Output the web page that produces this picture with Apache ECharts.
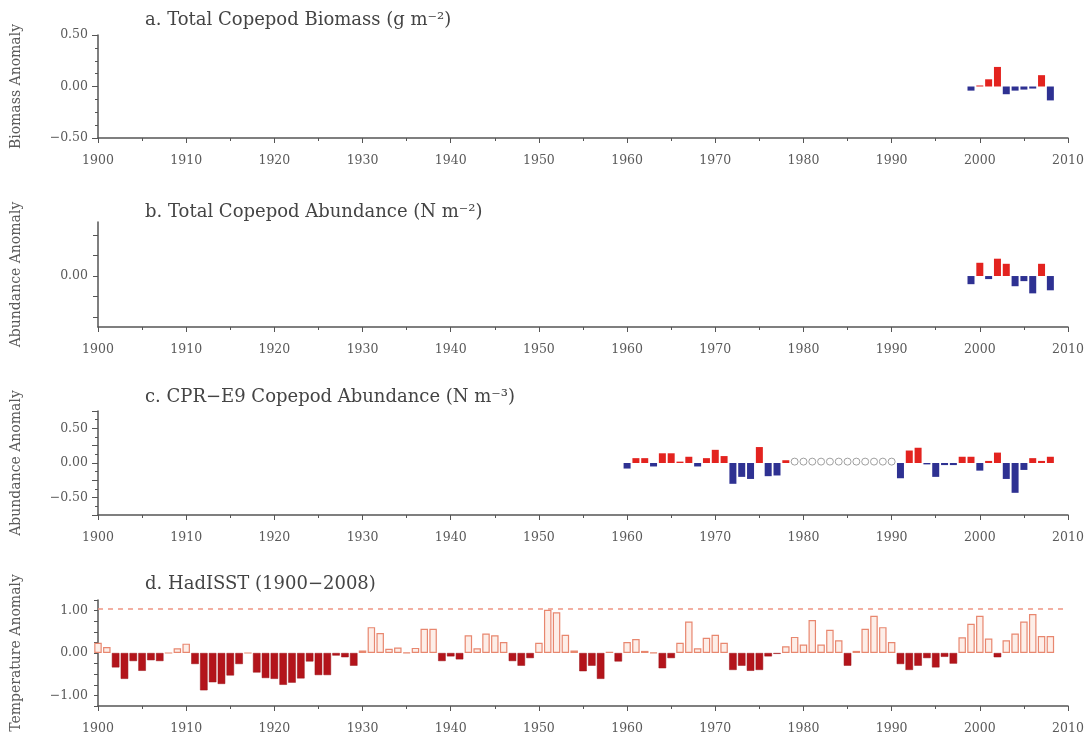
<!DOCTYPE html>
<html><head><meta charset="utf-8">
<script src="https://cdn.jsdelivr.net/npm/echarts@6/dist/echarts.min.js"></script>
<style>html,body{margin:0;padding:0;background:#fff}#c{width:1088px;height:742px}</style>
</head><body><div id="c"></div>
<script>
// ---- data ----
const biomassYears = [1999,2000,2001,2002,2003,2004,2005,2006,2007,2008];
const biomassValues = [-0.04,0.01,0.07,0.19,-0.075,-0.04,-0.03,-0.02,0.11,-0.135];
const abundanceYears = [1999,2000,2001,2002,2003,2004,2005,2006,2007,2008];
const abundanceValues = [-0.08,0.13,-0.03,0.17,0.12,-0.10,-0.05,-0.17,0.12,-0.14];
const cprYears = [1960,1961,1962,1963,1964,1965,1966,1967,1968,1969,1970,1971,1972,1973,1974,1975,1976,1977,1978,
  1991,1992,1993,1994,1995,1996,1997,1998,1999,2000,2001,2002,2003,2004,2005,2006,2007,2008];
const cprValues = [-0.08,0.07,0.07,-0.05,0.14,0.14,0.02,0.09,-0.05,0.07,0.19,0.10,-0.30,-0.20,-0.23,0.23,-0.19,-0.18,0.04,
  -0.22,0.18,0.22,-0.02,-0.20,-0.03,-0.03,0.09,0.09,-0.11,0.03,0.15,-0.23,-0.43,-0.10,0.07,0.03,0.09];
const cprMissingYears = [1979,1980,1981,1982,1983,1984,1985,1986,1987,1988,1989,1990];
const sstYears = [1900,1901,1902,1903,1904,1905,1906,1907,1908,1909,1910,1911,1912,1913,1914,1915,1916,1917,1918,1919,
  1920,1921,1922,1923,1924,1925,1926,1927,1928,1929,1930,1931,1932,1933,1934,1935,1936,1937,1938,1939,
  1940,1941,1942,1943,1944,1945,1946,1947,1948,1949,1950,1951,1952,1953,1954,1955,1956,1957,1958,1959,
  1960,1961,1962,1963,1964,1965,1966,1967,1968,1969,1970,1971,1972,1973,1974,1975,1976,1977,1978,1979,
  1980,1981,1982,1983,1984,1985,1986,1987,1988,1989,1990,1991,1992,1993,1994,1995,1996,1997,1998,1999,
  2000,2001,2002,2003,2004,2005,2006,2007,2008];
const sstValues = [0.24,0.14,-0.34,-0.61,-0.19,-0.42,-0.17,-0.19,0,0.11,
  0.22,-0.26,-0.88,-0.69,-0.73,-0.53,-0.26,0,-0.46,-0.59,
  -0.61,-0.75,-0.70,-0.60,-0.20,-0.52,-0.52,-0.06,-0.10,-0.30,
  0.06,0.61,0.47,0.10,0.13,0.01,0.12,0.57,0.57,-0.19,
  -0.08,-0.15,0.42,0.11,0.46,0.42,0.26,-0.19,-0.30,-0.12,
  0.24,1.02,0.96,0.43,0.06,-0.43,-0.30,-0.61,0.03,-0.20,
  0.26,0.33,0.05,0.01,-0.36,-0.12,0.24,0.74,0.11,0.36,
  0.43,0.24,-0.40,-0.30,-0.42,-0.40,-0.08,-0.02,0.16,0.38,
  0.20,0.78,0.20,0.55,0.30,-0.30,0.05,0.57,0.88,0.61,
  0.26,-0.26,-0.40,-0.30,-0.12,-0.34,-0.09,-0.25,0.37,0.69,
  0.88,0.34,-0.10,0.30,0.46,0.74,0.92,0.40,0.40];
const sstReference = 1.05;
const titles = ['a. Total Copepod Biomass (g m\u207B\u00B2)','b. Total Copepod Abundance (N m\u207B\u00B2)',
  'c. CPR\u2212E9 Copepod Abundance (N m\u207B\u00B3)','d. HadISST (1900\u22122008)'];
const yNames = ['Biomass Anomaly','Abundance Anomaly','Abundance Anomaly','Temperature Anomaly'];

// ---- styling ----
const FONT = 'DejaVu Serif';
const AX = '#555';
const TXT = '#5a5a5a';
const RED = '#e3231f', BLUE = '#2e3192';
const DARKRED = '#b3141b', HOLLOW_B = '#e8876f', HOLLOW_F = '#fdeee8';
const fmt = v => (v < 0 ? '\u2212' : '') + Math.abs(v).toFixed(2);

const grids = [
  {left:98, right:20, top:35, height:103},
  {left:98, right:20, top:222, height:105},
  {left:98, right:20, top:411, height:104},
  {left:98, right:20, top:600, height:106}
];
const xAxes = grids.map((g,i)=>({
  type:'value', gridIndex:i, min:1900, max:2010, interval:10,
  axisLine:{show:true, onZero:false, lineStyle:{color:AX, width:1.5}},
  axisTick:{show:true, length:5, lineStyle:{color:AX}},
  minorTick:{show:true, splitNumber:2, length:3, lineStyle:{color:AX}},
  splitLine:{show:false},
  axisLabel:{color:TXT, fontFamily:FONT, fontSize:12.5, margin:16, formatter:v=>String(v)}
}));
const yBase = (i) => ({
  type:'value', gridIndex:i, name:yNames[i], nameLocation:'middle', nameGap:75,
  nameTextStyle:{color:TXT, fontFamily:FONT, fontSize:14},
  axisLine:{show:true, onZero:false, lineStyle:{color:AX, width:1.5}},
  axisTick:{show:true, length:6, inside:false, lineStyle:{color:AX}},
  splitLine:{show:false},
  axisLabel:{color:TXT, fontFamily:FONT, fontSize:12.5, margin:10, formatter:fmt}
});
const yAxes = [
  Object.assign(yBase(0), {min:-0.5, max:0.5, interval:0.5,
    minorTick:{show:true, splitNumber:4, length:3, lineStyle:{color:AX}}}),
  Object.assign(yBase(1), {min:-0.5, max:0.53,
    axisLabel:{color:TXT, fontFamily:FONT, fontSize:12.5, margin:10, formatter:fmt, customValues:[0]},
    axisTick:{show:true, length:5, lineStyle:{color:AX}, customValues:[-0.4,-0.2,0,0.2,0.4]}}),
  Object.assign(yBase(2), {min:-0.75, max:0.75, interval:0.25,
    axisLabel:{color:TXT, fontFamily:FONT, fontSize:12.5, margin:10,
      formatter:v=> (Math.abs(Math.round(v*100)) % 50 === 0 ? fmt(v) : '')},
    minorTick:{show:true, splitNumber:2, length:3, lineStyle:{color:AX}}}),
  Object.assign(yBase(3), {min:-1.25, max:1.25, interval:0.25,
    axisLabel:{color:TXT, fontFamily:FONT, fontSize:12.5, margin:10,
      formatter:v=> (Math.abs(Math.round(v*100)) % 100 === 0 ? fmt(v) : '')},
    axisTick:{show:true, length:4, lineStyle:{color:AX}}})
];

function signBars(years, vals, pos, neg){
  return years.map((y,k)=>({value:[y, vals[k]],
    itemStyle:{color: vals[k] >= 0 ? pos : neg}}));
}
const series = [
  {type:'bar', xAxisIndex:0, yAxisIndex:0, barWidth:7, data:signBars(biomassYears, biomassValues, RED, BLUE)},
  {type:'bar', xAxisIndex:1, yAxisIndex:1, barWidth:7, data:signBars(abundanceYears, abundanceValues, RED, BLUE)},
  {type:'bar', xAxisIndex:2, yAxisIndex:2, barWidth:7, data:signBars(cprYears, cprValues, RED, BLUE)},
  {type:'scatter', xAxisIndex:2, yAxisIndex:2, symbol:'circle', symbolSize:7,
    itemStyle:{color:'#ffffff', borderColor:'#a0a0a0', borderWidth:1, opacity:1},
    data:cprMissingYears.map(y=>[y,0.02]), z:5},
  {type:'bar', xAxisIndex:3, yAxisIndex:3, barWidth:7.5,
    data:sstYears.map((y,k)=>({value:[y, sstValues[k]],
      itemStyle: sstValues[k] >= 0
        ? {color:HOLLOW_F, borderColor:HOLLOW_B, borderWidth:1.2}
        : {color:DARKRED, borderColor:'#9a1016', borderWidth:0.5}})),
    markLine:{silent:true, symbol:'none', label:{show:false},
      lineStyle:{type:[5,5], color:'#ef9582', width:1.5},
      data:[{yAxis:sstReference}]}}
];

const titleTops = [6, 198, 383, 570];
const chart = echarts.init(document.getElementById('c'), null, {renderer:'canvas'});
chart.setOption({
  animation:false,
  backgroundColor:'#fff',
  title: titles.map((t,i)=>({text:t, left:140, top:titleTops[i],
    textStyle:{color:'#444', fontFamily:FONT, fontSize:18, fontWeight:'normal'}})),
  grid: grids,
  xAxis: xAxes,
  yAxis: yAxes,
  series: series
});
</script></body></html>
